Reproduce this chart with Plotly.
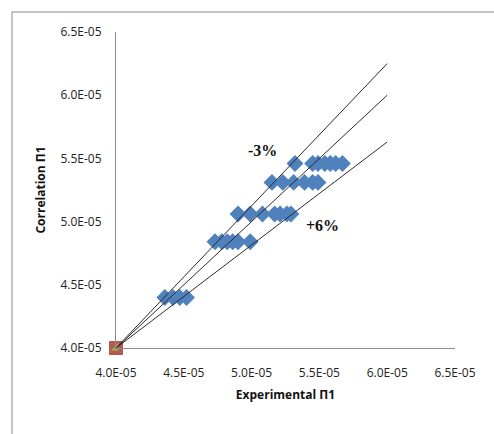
import plotly.graph_objects as go

# Data (units: raw values)
exp_row_a = [5.32e-05, 5.45e-05, 5.49e-05, 5.54e-05, 5.58e-05, 5.62e-05, 5.67e-05]
cor_row_a = [5.46e-05] * 7
exp_row_b = [5.15e-05, 5.23e-05, 5.31e-05, 5.39e-05, 5.45e-05, 5.49e-05]
cor_row_b = [5.31e-05] * 6
exp_row_c = [4.90e-05, 4.99e-05, 5.08e-05, 5.17e-05, 5.21e-05, 5.26e-05, 5.29e-05]
cor_row_c = [5.06e-05] * 7
exp_row_d = [4.73e-05, 4.78e-05, 4.82e-05, 4.86e-05, 4.90e-05, 4.99e-05]
cor_row_d = [4.84e-05] * 6
exp_row_e = [4.36e-05, 4.42e-05, 4.47e-05, 4.52e-05]
cor_row_e = [4.40e-05] * 4

experimental = exp_row_a + exp_row_b + exp_row_c + exp_row_d + exp_row_e
correlation = cor_row_a + cor_row_b + cor_row_c + cor_row_d + cor_row_e

origin_x = [4.0e-05]
origin_y = [4.0e-05]

line_x = [4.0e-05, 6.0e-05]
line_upper_y = [4.0e-05, 6.25e-05]
line_mid_y = [4.0e-05, 6.0e-05]
line_lower_y = [4.0e-05, 5.63e-05]

tick_vals = [4.0e-05, 4.5e-05, 5.0e-05, 5.5e-05, 6.0e-05, 6.5e-05]
tick_text = ["4.0E-05", "4.5E-05", "5.0E-05", "5.5E-05", "6.0E-05", "6.5E-05"]

label_minus = "-3%"
label_minus_pos = (5.08e-05, 5.56e-05)
label_plus = "+6%"
label_plus_pos = (5.52e-05, 4.97e-05)

fig = go.Figure()

fig.add_trace(go.Scatter(x=origin_x, y=origin_y, mode="markers",
                         marker=dict(symbol="square", size=14, color="#b5584f"),
                         cliponaxis=False, showlegend=False))
fig.add_trace(go.Scatter(x=origin_x, y=origin_y, mode="markers",
                         marker=dict(symbol="triangle-se", size=9, color="#9bbb59", opacity=0.8),
                         cliponaxis=False, showlegend=False))
fig.add_trace(go.Scatter(x=experimental, y=correlation, mode="markers",
                         marker=dict(symbol="diamond", size=13, color="#4f81bd"),
                         showlegend=False))
for ys in (line_upper_y, line_mid_y, line_lower_y):
    fig.add_trace(go.Scatter(x=line_x, y=ys, mode="lines",
                             line=dict(color="#2b2b2b", width=1),
                             cliponaxis=False, showlegend=False))

axis_common = dict(range=[4.0e-05, 6.5e-05], tickvals=tick_vals, ticktext=tick_text,
                   showgrid=False, zeroline=False, showline=True,
                   linecolor="#8c8c8c", linewidth=1, ticks="",
                   tickfont=dict(family="Open Sans", size=12, color="#222"))

fig.update_xaxes(**axis_common, ticklabelstandoff=14,
                 title=dict(text="<b>Experimental Π1</b>", standoff=10,
                            font=dict(family="Open Sans", size=12, color="#111")))
fig.update_yaxes(**axis_common, ticklabelstandoff=11,
                 title=dict(text="<b>Correlation Π1</b>", standoff=12,
                            font=dict(family="Open Sans", size=12, color="#111")))

fig.add_annotation(x=label_minus_pos[0], y=label_minus_pos[1], text="<b>" + label_minus + "</b>",
                   showarrow=False, font=dict(family="Liberation Serif", size=16, color="#111"))
fig.add_annotation(x=label_plus_pos[0], y=label_plus_pos[1], text="<b>" + label_plus + "</b>",
                   showarrow=False, font=dict(family="Liberation Serif", size=16, color="#111"))

# outer chart frame (partially cropped at right/bottom)
fig.add_shape(type="rect", xref="paper", yref="paper",
              x0=-0.3068, x1=1.5, y0=-0.5, y1=1.0633,
              line=dict(color="#8a8a8a", width=1), fillcolor="rgba(0,0,0,0)", layer="below")

fig.update_layout(width=494, height=434,
                  margin=dict(l=116, r=39, t=32, b=86),
                  paper_bgcolor="white", plot_bgcolor="white")

fig.write_html("out.html")
